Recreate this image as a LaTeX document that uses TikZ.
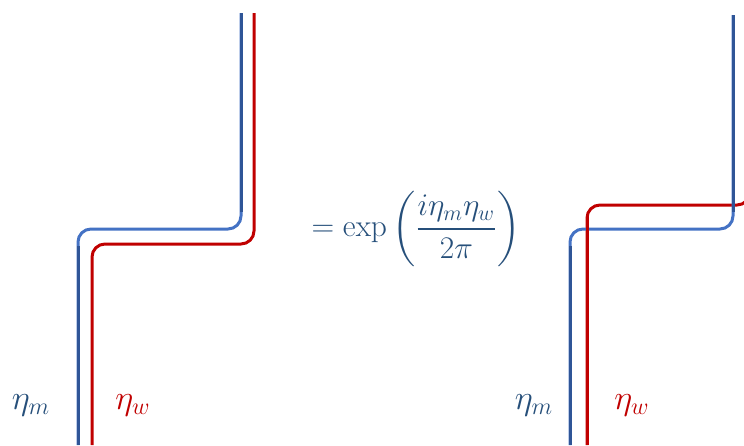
\documentclass[tikz,border=0pt]{standalone}
\usepackage{amsmath}
\definecolor{bluedark}{HTML}{2F5597}
\definecolor{bluelight}{HTML}{4472C4}
\definecolor{redline}{HTML}{C00000}
\definecolor{mathblue}{HTML}{264F7A}
\begin{document}
\begin{tikzpicture}[x=1pt,y=-1pt,
  strand/.style={line width=3pt, rounded corners=13pt},
  lbl/.style={font=\LARGE, scale=2.0, inner sep=0pt}]
\useasboundingbox (0,0) rectangle (744,445);
\clip (0,0) rectangle (744,445);
% left diagram
\coordinate (LBt) at (241,13);
\coordinate (LBc1) at (241,229);
\coordinate (LBc2) at (78,229);
\coordinate (LBb) at (78,445);
\coordinate (LRt) at (254,13);
\coordinate (LRc1) at (254,244);
\coordinate (LRc2) at (92,244);
\coordinate (LRb) at (92,445);
\draw[strand, bluelight] (LBt) -- (LBc1) -- (LBc2) -- (LBb);
\draw[line width=3pt, bluedark] (LBt) -- (241,212);
\draw[line width=3pt, bluedark] (78,246) -- (LBb);
\draw[strand, redline] (LRt) -- (LRc1) -- (LRc2) -- (LRb);
% right diagram
\coordinate (RBt) at (733,15);
\coordinate (RBc1) at (733,229);
\coordinate (RBc2) at (570,229);
\coordinate (RBb) at (570,445);
\coordinate (RRt) at (750,185);
\coordinate (RRc1) at (750,205);
\coordinate (RRc2) at (587,205);
\coordinate (RRb) at (587,445);
\draw[strand, redline] (RRt) -- (RRc1) -- (RRc2) -- (RRb);
\draw[strand, bluelight] (RBt) -- (RBc1) -- (RBc2) -- (RBb);
\draw[line width=3pt, bluedark] (RBt) -- (733,212);
\draw[line width=3pt, bluedark] (570,246) -- (RBb);
\draw[line width=3pt, redline] (587,216) -- (RRb);
% formula
\node[text=mathblue, font=\LARGE, scale=1.82, inner sep=0pt] (eq) at (416,229)
  {$\displaystyle = \exp\left(\frac{i\eta_m\eta_w}{2\pi}\right)$};
% labels
\node[lbl, text=mathblue] (lm) at (31,405) {$\eta_m$};
\node[lbl, text=redline] (lw) at (133,405) {$\eta_w$};
\node[lbl, text=mathblue] (rm) at (534,405) {$\eta_m$};
\node[lbl, text=redline] (rw) at (632,405) {$\eta_w$};
\end{tikzpicture}
\end{document}
